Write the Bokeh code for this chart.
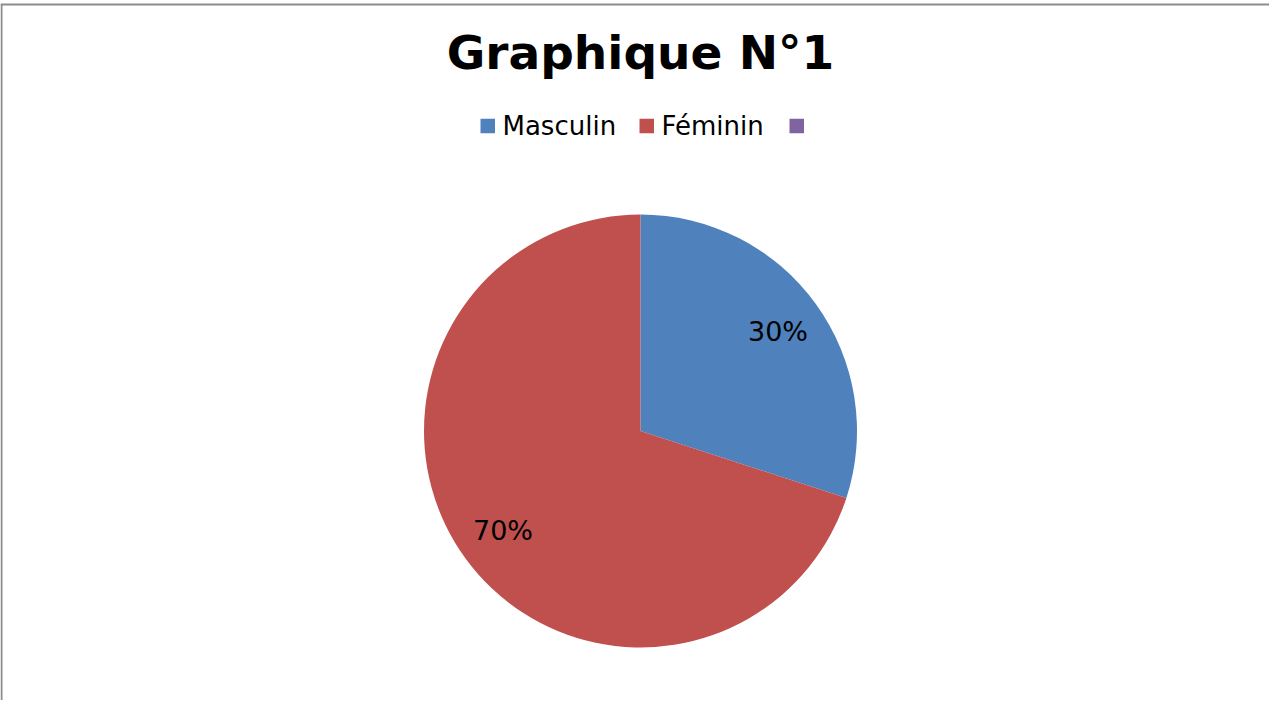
import math
from bokeh.plotting import figure
from bokeh.models import Range1d, ColumnDataSource
from bokeh.core.properties import value
from bokeh.embed import file_html
from bokeh.resources import INLINE

# ---- data ----
categories = ["Masculin", "Féminin", ""]
values = [30, 70, 0]
colors = ["#4F81BD", "#C0504D", "#8064A2"]
title_text = "Graphique N°1"

# ---- layout (pixel-like data coordinates) ----
W, H = 1269, 700
FONT = "DejaVu Sans"
cx, cy, R = 640, 269.5, 216.5
legend_left = [480, 639, 789]
legend_y = 574.5
title_y = 648
label_frac = 0.785

p = figure(width=W, height=H, output_backend="svg", toolbar_location=None,
           x_range=Range1d(0, W), y_range=Range1d(0, H), min_border=0,
           x_axis_location=None, y_axis_location=None)
p.xgrid.visible = False
p.ygrid.visible = False
p.outline_line_color = None
p.background_fill_color = "white"
p.border_fill_color = "white"

# chart-area border (left and top edges visible)
p.segment(x0=[1, 0], y0=[0, H - 4], x1=[1, W], y1=[H - 4, H - 4],
          line_color="#8C8C8C", line_width=2)

# pie (zero-valued slices are not drawn)
total = sum(values)
starts, ends, mids, cols = [], [], [], []
cum = 0.0
for v, c in zip(values, colors):
    frac = v / total
    s = math.pi / 2 - cum * 2 * math.pi
    e = s - frac * 2 * math.pi
    cum += frac
    if v <= 0:
        mids.append(None)
        continue
    starts.append(s)
    ends.append(e)
    cols.append(c)
    mids.append((s + e) / 2)

src = ColumnDataSource(dict(start=starts, end=ends, color=cols,
                            x=[cx] * len(starts), y=[cy] * len(starts)))
p.wedge(x="x", y="y", radius=R, start_angle="start", end_angle="end",
        direction="clock", fill_color="color", line_color=None, source=src)

# data labels
lx, ly, lt = [], [], []
for v, m in zip(values, mids):
    if v <= 0:
        continue
    lx.append(cx + label_frac * R * math.cos(m))
    ly.append(cy + label_frac * R * math.sin(m))
    lt.append(f"{round(100 * v / total)}%")
p.text(x=lx, y=ly, text=lt, text_font=value(FONT), text_font_size="27px",
       text_align="center", text_baseline="middle", text_color="black")

# title
p.text(x=[cx], y=[title_y], text=[title_text], text_font=value(FONT),
       text_font_size="47px", text_font_style="bold", text_align="center",
       text_baseline="middle", text_color="black")

# legend
sq = 14.5
p.rect(x=[l + sq / 2 for l in legend_left], y=[legend_y] * len(categories),
       width=sq, height=sq, fill_color=colors, line_color=None)
p.text(x=[l + 22 for l in legend_left], y=[legend_y] * len(categories), text=categories,
       text_font=value(FONT), text_font_size="26px", text_align="left",
       text_baseline="middle", text_color="black")

open("out.html", "w").write(file_html(p, INLINE))
